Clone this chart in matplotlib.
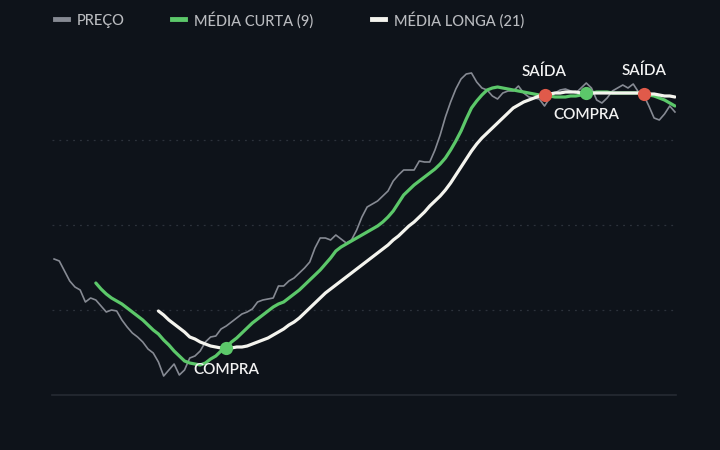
import matplotlib
matplotlib.use('Agg')
import numpy as np
from matplotlib import pyplot as plt
from matplotlib.lines import Line2D


# valores (escala arbitrária: 0 = linha de base, grade em 85 / 170 / 255)
preco = [
    136, 134, 124, 114, 108, 105, 93, 97, 95, 89,
    83, 85, 84, 75, 68, 62, 58, 53, 46, 42,
    33, 19, 25, 31, 20, 25, 37, 39, 44, 53,
    58, 59, 66, 69, 73, 77, 81, 83, 86, 93,
    95, 96, 97, 109, 109, 114, 117, 122, 127, 133,
    147, 157, 157, 155, 160, 156, 152, 155, 165, 178,
    188, 191, 194, 199, 204, 214, 220, 225, 225, 225,
    234, 233, 233, 245, 260, 278, 293, 306, 316, 321,
    322, 313, 307, 305, 299, 296, 302, 304, 304, 309,
    302, 298, 297, 296, 289, 297, 302, 305, 306, 304,
    302, 307, 312, 307, 295, 292, 297, 304, 307, 310,
    307, 311, 303, 300, 289, 277, 275, 281, 289, 283,
]

# média curta (9), começa no índice 8
media_curta = [
    112, 106, 101, 97, 94, 91, 87, 83, 79, 75,
    70, 65, 61, 55, 50, 44, 39, 34, 32, 31,
    30, 32, 36, 39, 44, 48, 53, 57, 62, 67,
    72, 76, 80, 84, 88, 91, 93, 97, 101, 105,
    110, 115, 120, 125, 131, 137, 144, 148, 151, 154,
    157, 160, 163, 166, 169, 173, 178, 184, 192, 200,
    205, 210, 214, 218, 222, 226, 231, 237, 245, 254,
    264, 276, 287, 294, 300, 305, 307, 308, 307, 306,
    305, 304, 303, 302, 301, 300, 299, 299, 298, 298,
    298, 299, 299, 300, 302, 302, 303, 303, 303, 302,
    302, 302, 302, 302, 302, 302, 300, 299, 297, 295,
    292, 289,
]

# média longa (21), começa no índice 20
media_longa = [
    84, 80, 75, 71, 67, 63, 58, 56, 53, 51,
    49, 48, 47, 47, 47, 48, 48, 49, 51, 53,
    55, 57, 60, 63, 66, 70, 73, 77, 82, 87,
    92, 97, 102, 106, 110, 114, 118, 122, 126, 130,
    134, 138, 142, 146, 150, 155, 159, 164, 169, 173,
    178, 183, 189, 194, 199, 205, 212, 220, 228, 236,
    244, 251, 257, 262, 267, 272, 277, 282, 287, 290,
    293, 295, 297, 299, 300, 301, 302, 302, 303, 303,
    303, 302, 302, 302, 302, 302, 302, 302, 302, 302,
    302, 302, 302, 301, 301, 301, 300, 299, 299, 298,
]

# sinais de cruzamento (índice, tipo)
sinais_idx = [33, 94, 102, 113]
sinais_tipo = ['COMPRA', 'SAÍDA', 'COMPRA', 'SAÍDA']

legenda = ['PREÇO', 'MÉDIA CURTA (9)', 'MÉDIA LONGA (21)']

FUNDO = '#0e131a'
CINZA = '#868a93'
VERDE = '#5cc86a'
BRANCO = '#f4f4ee'
VERMELHO = '#e05a4a'
TEXTO = '#b9bbbf'


def main():
    plt.rcParams['font.family'] = ['Lato', 'DejaVu Sans']

    fig = plt.figure(figsize=(7.2, 4.5), dpi=100, facecolor=FUNDO)
    ax = fig.add_axes([52 / 720, 55 / 450, 624 / 720, 340 / 450])
    ax.set_facecolor(FUNDO)

    x_preco = np.arange(len(preco))
    x_curta = np.arange(8, 8 + len(media_curta))
    x_longa = np.arange(20, 20 + len(media_longa))

    ax.plot(x_preco, preco, color=CINZA, lw=1.2, zorder=2)
    ax.plot(x_curta, media_curta, color=VERDE, lw=2.3, zorder=3,
            solid_capstyle='round')
    ax.plot(x_longa, media_longa, color=BRANCO, lw=2.3, zorder=4,
            solid_capstyle='round')

    # marcadores nos cruzamentos
    for idx, tipo in zip(sinais_idx, sinais_tipo):
        y = media_longa[idx - 20]
        cor = VERDE if tipo == 'COMPRA' else VERMELHO
        ax.plot(idx, y, 'o', ms=9.5, color=cor, mec='none', zorder=6)
        dy = -16 if tipo == 'COMPRA' else 16.5
        ax.annotate(tipo, (idx, y), xytext=(0, dy), textcoords='offset points',
                    ha='center', va='center', color='#f2f2f2', fontsize=11,
                    fontweight='semibold', zorder=7)

    ax.set_xlim(-0.4, 119.2)
    ax.set_ylim(0, 340)
    ax.set_yticks([85, 170, 255])
    ax.set_xticks([])
    ax.tick_params(left=False, labelleft=False)
    ax.grid(axis='y', color='#2c323b', lw=0.9, linestyle=(0, (1.5, 4)))
    for lado in ['top', 'right', 'left']:
        ax.spines[lado].set_visible(False)
    ax.spines['bottom'].set_color('#262b33')
    ax.spines['bottom'].set_linewidth(1.2)

    # legenda no topo
    cores = [CINZA, VERDE, BRANCO]
    pos_x = [55, 172, 372]
    for px, cor, nome in zip(pos_x, cores, legenda):
        fig.add_artist(Line2D([px / 720, (px + 13) / 720], [1 - 19 / 450, 1 - 19 / 450],
                              color=cor, lw=3.5))
        fig.text((px + 22) / 720, 1 - 19 / 450, nome, color=TEXTO, fontsize=10.5,
                 fontweight='medium', va='center_baseline', ha='left')

    fig.savefig('out.png', dpi=100, facecolor=FUNDO)


if __name__ == '__main__':
    main()
